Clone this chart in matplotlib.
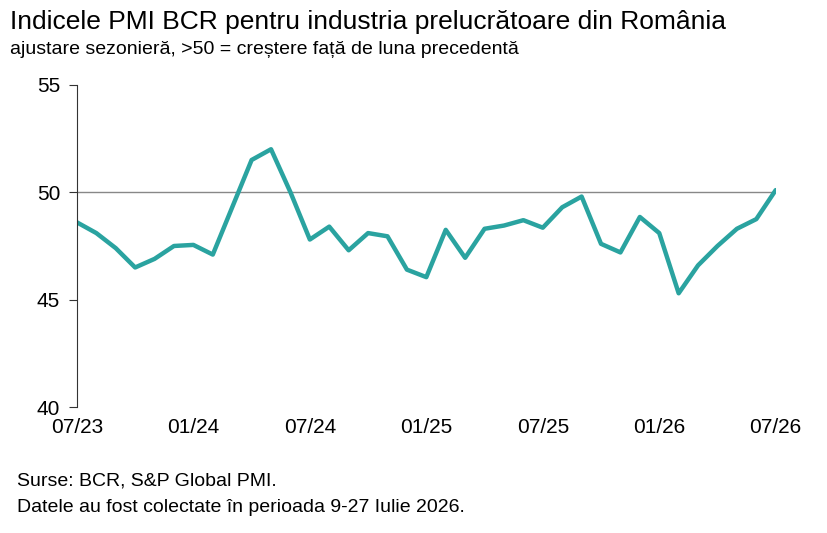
import matplotlib.pyplot as plt

plt.rcParams['font.family'] = ['Liberation Sans', 'DejaVu Sans']

pmi = [48.6, 48.1, 47.4, 46.5, 46.9, 47.5, 47.55, 47.1, 49.3, 51.5, 52.0, 50.0,
       47.8, 48.4, 47.3, 48.1, 47.95, 46.4, 46.05, 48.25, 46.95, 48.3, 48.45, 48.7,
       48.35, 49.3, 49.8, 47.6, 47.2, 48.85, 48.1, 45.3, 46.6, 47.5, 48.3, 48.75, 50.1]
tick_pos = [0, 6, 12, 18, 24, 30, 36]
tick_labels = ['07/23', '01/24', '07/24', '01/25', '07/25', '01/26', '07/26']

fig = plt.figure(figsize=(8.27, 5.33), dpi=100)
ax = fig.add_axes([0.093, 0.236, 0.845, 0.605])
ax.plot(range(len(pmi)), pmi, color='#2aa3a0', lw=3.2, solid_capstyle='round')
ax.axhline(50, color='#888888', lw=1, zorder=0)
ax.set_xlim(0, 36)
ax.set_ylim(40, 55)
ax.set_yticks([40, 45, 50, 55])
ax.set_xticks(tick_pos)
ax.set_xticklabels(tick_labels)
for s in ['top', 'right', 'bottom']:
    ax.spines[s].set_visible(False)
ax.spines['left'].set_color('#333333')
ax.tick_params(axis='both', labelsize=15, length=0, pad=8)
ax.tick_params(axis='y', length=6, direction='out', color='#333333', pad=6)

fig.text(0.012, 0.958, 'Indicele PMI BCR pentru industria prelucrătoare din România', fontsize=19, va='center')
fig.text(0.012, 0.908, 'ajustare sezonieră, >50 = creștere față de luna precedentă', fontsize=14, va='center')
fig.text(0.02, 0.098, 'Surse: BCR, S&P Global PMI.', fontsize=14, va='center')
fig.text(0.02, 0.048, 'Datele au fost colectate în perioada 9-27 Iulie 2026.', fontsize=14, va='center')
fig.savefig('out.png', dpi=100)
